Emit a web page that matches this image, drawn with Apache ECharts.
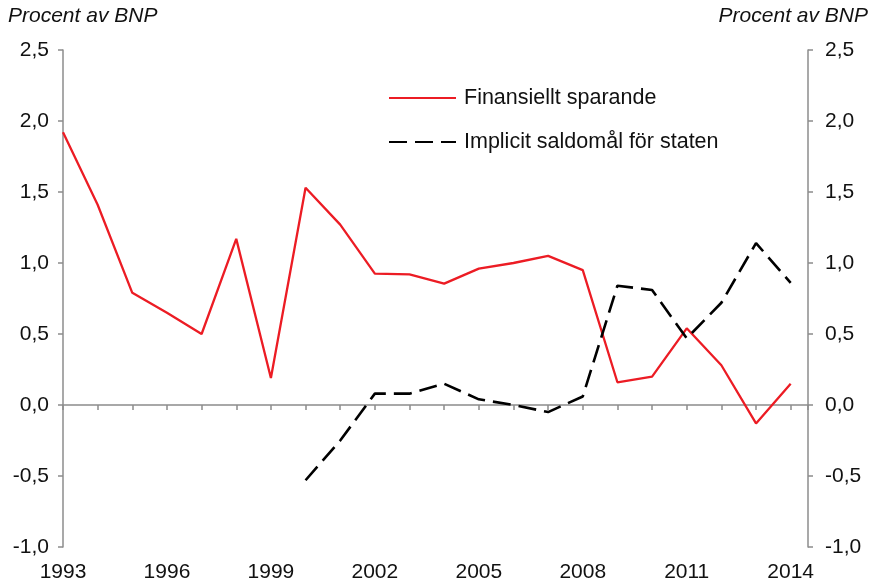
<!DOCTYPE html>
<html>
<head>
<meta charset="utf-8">
<script src="https://cdn.jsdelivr.net/npm/echarts@6/dist/echarts.min.js"></script>
<style>html,body{margin:0;padding:0;background:#fff}#c{width:869px;height:585px}</style>
</head>
<body>
<div id="c"></div>
<script>
const years = [1993,1994,1995,1996,1997,1998,1999,2000,2001,2002,2003,2004,2005,2006,2007,2008,2009,2010,2011,2012,2013,2014];
const finansielltSparande = [1.92,1.41,0.79,0.65,0.50,1.17,0.19,1.53,1.27,0.925,0.92,0.855,0.96,1.00,1.05,0.95,0.16,0.20,0.54,0.28,-0.13,0.15];
const implicitSaldomal = [null,null,null,null,null,null,null,-0.53,-0.25,0.08,0.08,0.15,0.04,0.00,-0.05,0.06,0.84,0.81,0.47,0.72,1.14,0.86];
const yTicks = [-1.0,-0.5,0.0,0.5,1.0,1.5,2.0,2.5];
const seriesNames = ['Finansiellt sparande','Implicit saldomål för staten'];
const axisTitle = 'Procent av BNP';

const FONT = 'Liberation Sans, Arial, sans-serif';
const FS = 21;
const fmtY = v => v.toFixed(1).replace('.', ',');
const pair = arr => years.map((y,i) => [y, arr[i]]);

const chart = echarts.init(document.getElementById('c'), null, {renderer:'canvas'});
const yAxisBase = {
  type:'value', min:yTicks[0], max:yTicks[yTicks.length-1], interval:0.5,
  axisLine:{show:true, lineStyle:{color:'#8c8c8c', width:1.5}},
  axisTick:{show:true, length:5, lineStyle:{color:'#8c8c8c', width:1.5}},
  splitLine:{show:false},
  axisLabel:{formatter:fmtY, color:'#111', fontFamily:FONT, fontSize:FS}
};
chart.setOption({
  animation:false,
  backgroundColor:'#fff',
  title:[
    {text:axisTitle, left:6, top:4, padding:[2,2,2,2], textStyle:{fontFamily:FONT, fontSize:FS, fontStyle:'italic', fontWeight:'normal', color:'#111'}},
    {text:axisTitle, right:0, top:4, padding:[2,1,2,2], textStyle:{fontFamily:FONT, fontSize:FS, fontStyle:'italic', fontWeight:'normal', color:'#111'}}
  ],
  legend:{
    orient:'vertical', left:388, top:87, padding:0, itemWidth:67, itemHeight:24, itemGap:22,
    itemStyle:{opacity:0},
    textStyle:{fontFamily:FONT, fontSize:21.5, color:'#111', padding:[0,0,0,3]},
    data:seriesNames
  },
  grid:{left:63, right:61, top:50, bottom:38, containLabel:false},
  xAxis:[
    {type:'value', min:1993, max:2014.5, interval:1, position:'bottom',
     axisLine:{show:false, onZero:false}, axisTick:{show:false}, splitLine:{show:false},
     axisLabel:{color:'#111', fontFamily:FONT, fontSize:FS, margin:15,
       formatter:v => (Number.isInteger(v) && (v-1993)%3===0) ? String(v) : ''}},
    {type:'value', min:1993, max:2014.5, interval:1, position:'bottom',
     axisLine:{show:true, onZero:true, onZeroAxisIndex:0, lineStyle:{color:'#8c8c8c', width:1.5}},
     axisTick:{show:true, length:5, inside:false, lineStyle:{color:'#8c8c8c', width:1.5}},
     axisLabel:{show:false}, splitLine:{show:false}}
  ],
  yAxis:[
    Object.assign({}, yAxisBase, {position:'left', axisLabel:Object.assign({}, yAxisBase.axisLabel, {margin:14})}),
    Object.assign({}, yAxisBase, {position:'right', axisLabel:Object.assign({}, yAxisBase.axisLabel, {margin:17})})
  ],
  series:[
    {name:seriesNames[0], type:'line', xAxisIndex:0, yAxisIndex:0, data:pair(finansielltSparande),
     symbol:'none', lineStyle:{color:'#ec1c24', width:2.3}, itemStyle:{color:'#ec1c24'}},
    {name:seriesNames[1], type:'line', xAxisIndex:0, yAxisIndex:0, data:pair(implicitSaldomal),
     symbol:'none', connectNulls:false, lineStyle:{color:'#000', width:2.6, type:[18,8]}, itemStyle:{color:'#000'}}
  ]
});
</script>
</body>
</html>
